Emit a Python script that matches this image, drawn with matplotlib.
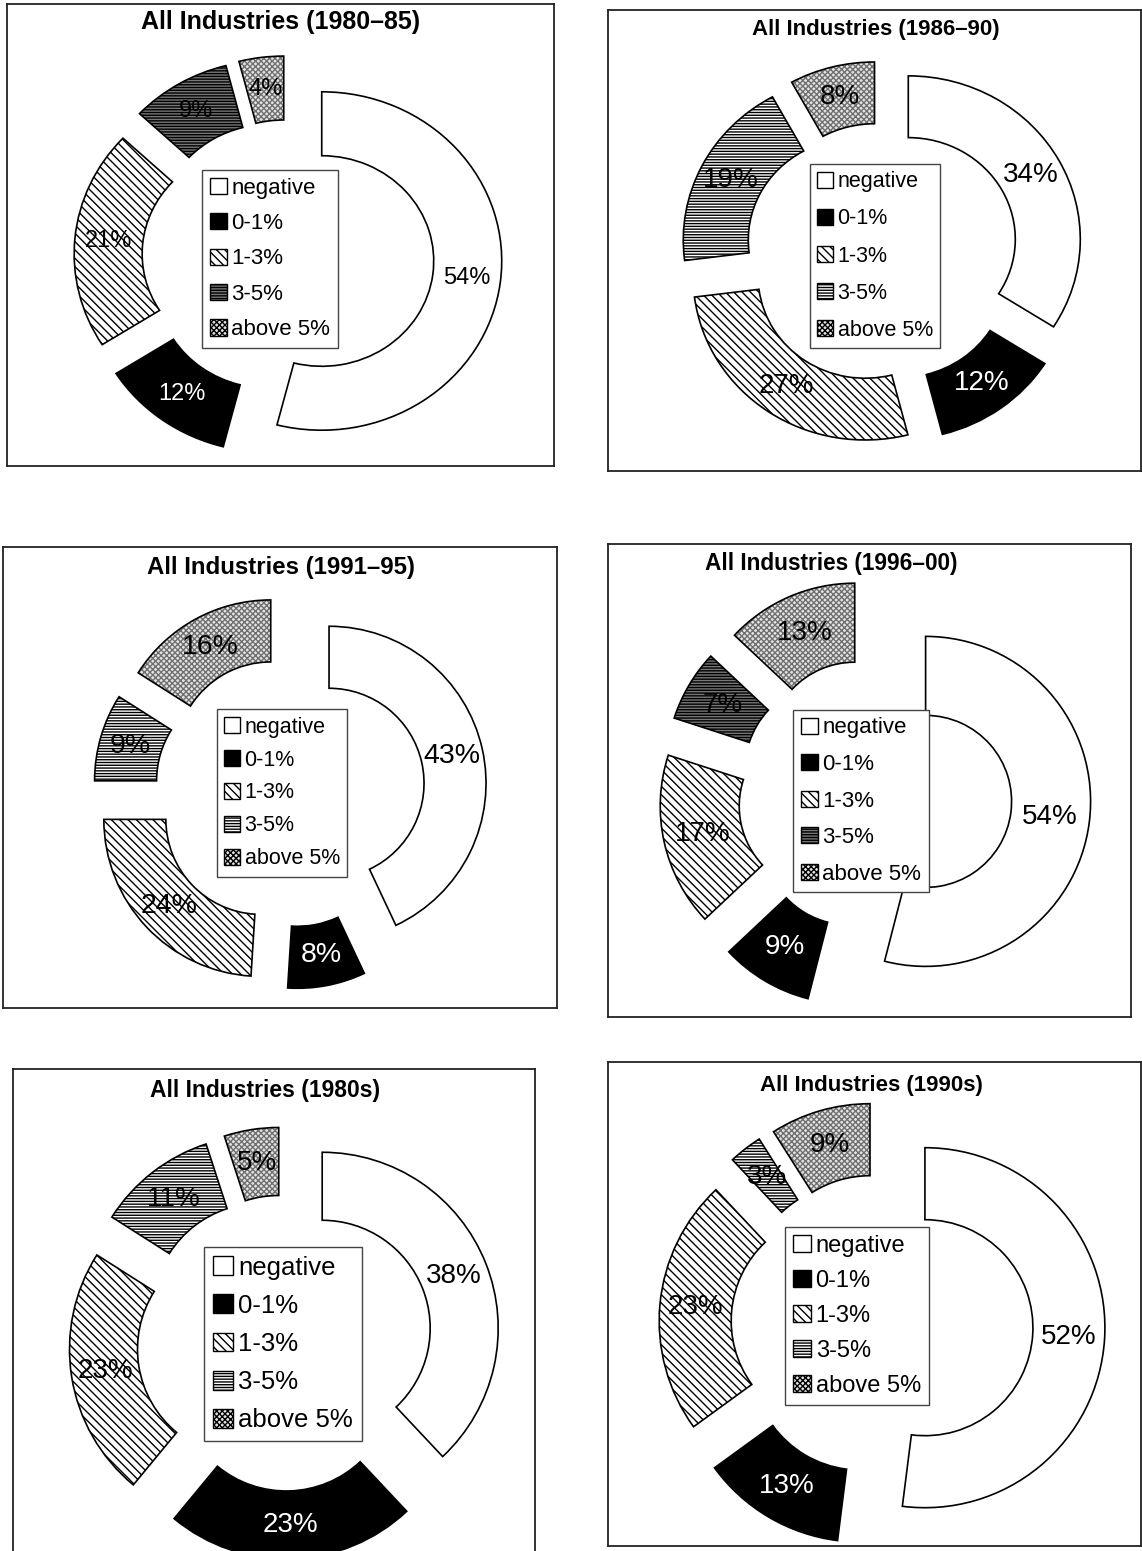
import matplotlib
matplotlib.use('Agg')
import matplotlib.pyplot as plt
from matplotlib.patches import Patch

plt.rcParams['font.family'] = ['Liberation Sans', 'DejaVu Sans']
plt.rcParams['hatch.linewidth'] = 1.0

W, H = 1142, 1551

categories = ['negative', '0-1%', '1-3%', '3-5%', 'above 5%']

titles = ['All Industries (1980–85)', 'All Industries (1986–90)',
          'All Industries (1991–95)', 'All Industries (1996–00)',
          'All Industries (1980s)', 'All Industries (1990s)']

shares_8085 = [54, 12, 21, 9, 4]
shares_8690 = [34, 12, 27, 19, 8]
shares_9195 = [43, 8, 24, 9, 16]
shares_9600 = [54, 9, 17, 7, 13]
shares_80s = [38, 23, 23, 11, 5]
shares_90s = [52, 13, 23, 3, 9]
all_shares = [shares_8085, shares_8690, shares_9195, shares_9600, shares_80s, shares_90s]

# panel layout in pixels: box, pie centre, radius, ring width, explode (px), vertical squash k,
# legend centre, label spacing, title pos, font sizes
panels = [
    dict(box=(7, 4, 554, 466), c=(288, 257), R=180, w=68, ex=34, k=0.94, leg=(270, 259), ls=0.65,
         tt=(281, 22), tfs=18, fs=17, lfs=16, dark=True),
    dict(box=(608, 10, 1141, 471), c=(882, 253), R=172, w=65, ex=30, k=0.95, leg=(875, 256), ls=0.75,
         tt=(876, 30), tfs=16, fs=20, lfs=15.5, dark=False),
    dict(box=(3, 547, 557, 1008), c=(290, 792), R=157, w=62, ex=40, k=1.0, leg=(282, 793), ls=0.55,
         tt=(281, 568), tfs=17.3, fs=20.5, lfs=15.5, dark=False),
    dict(box=(608, 544, 1131, 1017), c=(875, 795), R=165, w=79, ex=51, k=1.0, leg=(861, 801), ls=0.7,
         tt=(831, 563), tfs=16.3, fs=20, lfs=16, dark=True),
    dict(box=(13, 1069, 535, 1565), c=(285, 1343), R=176, w=68, ex=40, k=1.0, leg=(283, 1344), ls=0.55,
         tt=(265, 1090), tfs=16.5, fs=20, lfs=18.5, dark=False),
    dict(box=(608, 1062, 1141, 1546), c=(882, 1325), R=180, w=72, ex=43, k=1.0, leg=(857, 1316), ls=0.55,
         tt=(871, 1085), tfs=16, fs=20, lfs=17, dark=False),
]

hatches = ['', '', '\\\\\\\\', '------', 'xxxxxx']
hatch_cols = ['black', 'black', 'black', 'black', '#707070']


def face_colors(dark):
    return ['white', 'black', 'white', '#777777' if dark else 'white', '#e4e4e4']


fig = plt.figure(figsize=(W / 100, H / 100), dpi=100)

for p, shares, title in zip(panels, all_shares, titles):
    x0, y0, x1, y1 = p['box']
    k = p['k']
    ax = fig.add_axes([x0 / W, 1 - y1 / H, (x1 - x0) / W, (y1 - y0) / H])

    def to_data(px, py):
        return px, (H - py) / k

    centre = to_data(*p['c'])
    fcs = face_colors(p['dark'])
    explode = [p['ex']] * len(shares)

    # fills with hatches (hatch colour follows edgecolor)
    wedges, _ = ax.pie(shares, explode=explode, startangle=90, counterclock=False,
                       center=centre, radius=p['R'], colors=fcs,
                       wedgeprops=dict(width=p['w'], linewidth=0))
    for wd, hc, ht in zip(wedges, hatch_cols, hatches):
        wd.set_edgecolor(hc)
        wd.set_hatch(ht)
    # outlines and labels
    _, _, autotexts = ax.pie(shares, explode=explode, startangle=90, counterclock=False,
                             center=centre, radius=p['R'], autopct='%.0f%%',
                             pctdistance=1 - p['w'] / 2 / p['R'],
                             textprops=dict(fontsize=p['fs']),
                             wedgeprops=dict(width=p['w'], fill=False, edgecolor='black', linewidth=1.2))
    autotexts[1].set_color('white')

    ax.set_aspect('auto')
    ax.set_xlim(x0, x1)
    ax.set_ylim((H - y1) / k, (H - y0) / k)
    ax.set_frame_on(True)
    ax.set_xticks([])
    ax.set_yticks([])
    for sp in ax.spines.values():
        sp.set_linewidth(1.3)
        sp.set_color('#222222')

    ax.text(*to_data(*p['tt']), title, ha='center', va='center',
            fontsize=p['tfs'], fontweight='bold')

    handles = [Patch(facecolor=fc, edgecolor='black', hatch=ht, linewidth=1.0)
               for fc, ht in zip(fcs, hatches)]
    leg = ax.legend(handles, categories, loc='center',
                    bbox_to_anchor=to_data(*p['leg']), bbox_transform=ax.transData,
                    fontsize=p['lfs'], fancybox=False, framealpha=1, edgecolor='#444444',
                    handlelength=0.75, handleheight=0.75, handletextpad=0.2,
                    labelspacing=p['ls'], borderpad=0.35, borderaxespad=0)
    leg.get_frame().set_linewidth(1.0)

fig.savefig('out.png', dpi=100)
